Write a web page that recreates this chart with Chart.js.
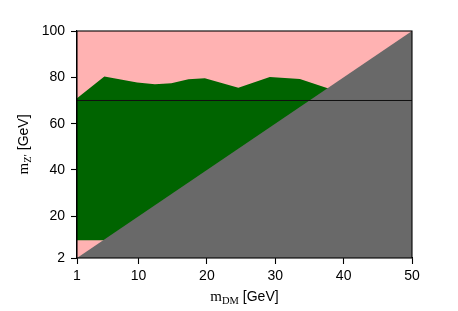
<!DOCTYPE html>
<html><head><meta charset="utf-8">
<style>html,body{margin:0;padding:0;background:#fff;}#wrap{width:458px;height:311px;}</style>
<script src="https://cdn.jsdelivr.net/npm/chart.js@4"></script>
</head><body><div id="wrap"><canvas id="c" width="458" height="311"></canvas></div>
<script>
// ---- data ----
const xTicks = [1, 10, 20, 30, 40, 50];
const yTicks = [2, 20, 40, 60, 80, 100];
const boundX = [1, 5.0, 9.8, 12.4, 14.8, 17.3, 19.7, 24.6, 29.2, 33.6, 38];
const boundY = [71, 80.4, 77.8, 77.0, 77.4, 79.2, 79.6, 75.5, 80.1, 79.3, 75];
const lowerLimit = 9.7;
const diagX = [1, 50];
const diagY = [2, 100];
const refLineY = 70;
const xRange = [1, 50];
const yRange = [2, 100];

const pts = (xs, ys) => xs.map((x, i) => ({x: x, y: ys[i]}));

const frame = {
  id: 'frame',
  afterDatasetsDraw(chart) {
    const a = chart.chartArea, ctx = chart.ctx;
    ctx.save();
    ctx.strokeStyle = '#000';
    ctx.lineWidth = 1.1;
    ctx.strokeRect(a.left, a.top, a.right - a.left, a.bottom - a.top);
    ctx.restore();
  },
  afterDraw(chart) {
    const a = chart.chartArea, ctx = chart.ctx;
    ctx.save();
    ctx.fillStyle = '#000';
    ctx.textBaseline = 'alphabetic';
    const parts = (list) => {
      let w = 0;
      list.forEach(p => { ctx.font = p.font; p.w = ctx.measureText(p.t).width; w += p.w; });
      return w;
    };
    // x title
    const xp = [
      {t: 'm', font: '15px "Liberation Serif", serif', dy: 0},
      {t: 'DM', font: '10.5px "Liberation Serif", serif', dy: 3},
      {t: ' [GeV]', font: '14px "Liberation Sans", Arial, sans-serif', dy: 0}
    ];
    let w = parts(xp);
    let x = (a.left + a.right) / 2 - w / 2;
    xp.forEach(p => { ctx.font = p.font; ctx.fillText(p.t, x, 301 + p.dy); x += p.w; });
    // y title
    const yp = [
      {t: 'm', font: '15px "Liberation Serif", serif', dy: 0},
      {t: 'Z\u2032', font: '10.5px "Liberation Serif", serif', dy: 3},
      {t: ' [GeV]', font: '14px "Liberation Sans", Arial, sans-serif', dy: 0}
    ];
    w = parts(yp);
    ctx.translate(28, (a.top + a.bottom) / 2);
    ctx.rotate(-Math.PI / 2);
    x = -w / 2;
    yp.forEach(p => { ctx.font = p.font; ctx.fillText(p.t, x, p.dy); x += p.w; });
    ctx.restore();
  }
};

new Chart(document.getElementById('c'), {
  type: 'line',
  data: {
    datasets: [
      {data: pts([xRange[0], xRange[1]], [refLineY, refLineY]), borderColor: '#111', borderWidth: 1, fill: false, pointRadius: 0, order: 0},
      {data: pts(diagX, diagY), borderColor: '#696969', borderWidth: 0, backgroundColor: '#696969', fill: 'start', pointRadius: 0, order: 1},
      {data: pts(boundX, boundY), borderColor: '#006400', borderWidth: 0, backgroundColor: '#006400', fill: {value: lowerLimit}, pointRadius: 0, order: 2},
      {data: pts([xRange[0], xRange[1]], [yRange[1], yRange[1]]), borderColor: '#ffb2b2', borderWidth: 0, backgroundColor: '#ffb2b2', fill: 'start', pointRadius: 0, order: 3}
    ]
  },
  options: {
    responsive: false,
    animation: false,
    devicePixelRatio: 1,
    layout: {padding: {top: 31, right: 46, left: 0, bottom: 0}},
    plugins: {legend: {display: false}, tooltip: {enabled: false}},
    elements: {line: {tension: 0}},
    scales: {
      x: {
        type: 'linear', min: xRange[0], max: xRange[1],
        afterBuildTicks: s => { s.ticks = xTicks.map(v => ({value: v})); },
        afterFit: s => { s.height = 53; },
        grid: {drawOnChartArea: false, drawTicks: true, tickLength: 6, color: '#000', tickWidth: 1.1},
        border: {display: true, color: '#000', width: 1.1},
        ticks: {color: '#000', padding: 4, font: {family: '"Liberation Sans", Arial, sans-serif', size: 14}, maxRotation: 0, autoSkip: false}
      },
      y: {
        type: 'linear', min: yRange[0], max: yRange[1],
        afterBuildTicks: s => { s.ticks = yTicks.map(v => ({value: v})); },
        afterFit: s => { s.width = 77; },
        grid: {drawOnChartArea: false, drawTicks: true, tickLength: 6, color: '#000', tickWidth: 1.1},
        border: {display: true, color: '#000', width: 1.1},
        ticks: {color: '#000', padding: 6, font: {family: '"Liberation Sans", Arial, sans-serif', size: 14}, autoSkip: false}
      }
    }
  },
  plugins: [frame]
});
</script>
</body></html>
